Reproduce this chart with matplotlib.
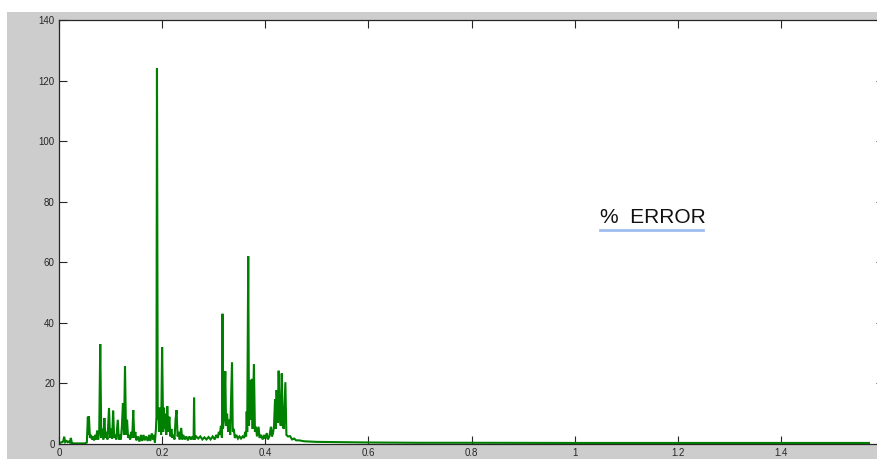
import matplotlib
matplotlib.use("Agg")
import matplotlib.pyplot as plt
from matplotlib.patches import Rectangle
from matplotlib.lines import Line2D

# ---- data (x, % error) ----
x_vals = [
    0.000, 0.004, 0.008, 0.010, 0.012, 0.015, 0.017, 0.019, 0.021, 0.023, 0.025, 0.030, 0.040, 0.050, 0.054,
    0.056, 0.057, 0.058, 0.060, 0.062, 0.064, 0.066, 0.068, 0.070, 0.072, 0.074, 0.076, 0.078, 0.080,
    0.082, 0.084, 0.086, 0.088, 0.090, 0.092, 0.094, 0.097, 0.099, 0.101, 0.103, 0.105, 0.107, 0.109,
    0.111, 0.114, 0.116, 0.118, 0.120, 0.122, 0.124, 0.126, 0.128, 0.130, 0.132, 0.134, 0.136, 0.138,
    0.140, 0.142, 0.144, 0.146, 0.148, 0.150, 0.153, 0.156, 0.159, 0.161, 0.164, 0.166, 0.169, 0.172,
    0.175, 0.177, 0.180, 0.182, 0.184, 0.186, 0.188, 0.189,
    0.190, 0.1915, 0.193, 0.194, 0.195, 0.196, 0.197, 0.198, 0.200, 0.202, 0.203, 0.205, 0.206, 0.208,
    0.210, 0.212, 0.214, 0.216, 0.218, 0.220, 0.222, 0.224, 0.226, 0.228, 0.230, 0.232, 0.234, 0.237,
    0.239, 0.241, 0.244, 0.247, 0.250, 0.253, 0.256, 0.259, 0.261, 0.262, 0.263, 0.266, 0.270, 0.274,
    0.278, 0.282, 0.286, 0.290, 0.294, 0.298, 0.302, 0.305, 0.308, 0.310, 0.312, 0.314, 0.316, 0.317,
    0.318, 0.320, 0.3225, 0.324, 0.326, 0.328, 0.330, 0.332, 0.3355, 0.337, 0.339, 0.341, 0.344, 0.347,
    0.350, 0.353, 0.356, 0.359, 0.361, 0.363, 0.364, 0.365, 0.367, 0.3685, 0.370, 0.372, 0.374, 0.3755,
    0.378, 0.380, 0.382, 0.384, 0.387, 0.389, 0.392, 0.395, 0.398, 0.400, 0.403, 0.405, 0.408, 0.411,
    0.413, 0.415, 0.417, 0.419, 0.4205, 0.422, 0.424, 0.426, 0.428, 0.430, 0.432, 0.434, 0.436, 0.439,
    0.441, 0.444, 0.448, 0.452, 0.456, 0.460, 0.466, 0.475, 0.490, 0.500, 0.550, 0.600, 0.700, 0.800,
    1.000, 1.200, 1.400, 1.5708,
]
err_vals = [
    0.3, 0.5, 0.8, 2.4, 0.6, 1.0, 0.6, 0.8, 0.5, 2.0, 0.3, 0.2, 0.2, 0.2, 0.5,
    9.0, 3.0, 9.2, 2.0, 3.0, 1.5, 2.5, 1.2, 3.0, 1.5, 4.4, 1.5, 4.0, 33.0,
    2.0, 5.0, 1.5, 8.6, 2.0, 4.0, 1.5, 11.9, 2.0, 5.0, 1.8, 11.0, 2.0, 3.0,
    1.5, 8.0, 1.5, 3.0, 1.5, 6.0, 13.5, 3.0, 25.7, 3.0, 8.0, 2.0, 3.0, 1.5,
    4.0, 2.0, 11.2, 2.0, 4.0, 1.2, 2.5, 0.8, 3.0, 1.0, 3.0, 1.2, 2.5, 1.0,
    3.0, 1.0, 3.5, 1.5, 3.0, 0.5, 5.0, 9.0,
    124.0, 8.0, 12.0, 4.0, 11.0, 5.0, 12.0, 3.0, 32.0, 4.0, 12.0, 5.0, 10.0, 3.0,
    12.5, 4.0, 9.0, 2.5, 5.0, 2.0, 3.0, 1.5, 8.0, 11.2, 2.5, 4.0, 1.5, 5.3,
    1.5, 3.0, 1.5, 2.5, 1.2, 2.5, 1.5, 2.5, 1.5, 15.3, 1.5, 2.5, 1.8, 2.5,
    1.5, 2.2, 1.5, 2.3, 1.5, 2.5, 1.5, 3.0, 2.0, 4.0, 3.0, 6.0, 2.0, 43.0,
    5.0, 8.0, 24.0, 6.0, 10.0, 4.0, 8.0, 3.0, 27.0, 4.0, 5.0, 2.0, 3.0, 1.8,
    2.5, 1.8, 2.5, 2.0, 4.0, 2.5, 10.7, 4.0, 62.0, 6.0, 21.0, 8.0, 21.5, 5.0,
    26.4, 4.0, 5.7, 2.5, 5.7, 2.0, 3.0, 1.5, 3.0, 1.8, 3.6, 1.5, 2.5, 5.7,
    2.5, 3.5, 6.0, 14.8, 5.0, 17.8, 7.0, 24.2, 10.0, 6.0, 23.3, 6.0, 5.0, 20.4,
    3.0, 2.5, 2.6, 1.5, 1.8, 1.2, 1.2, 0.9, 0.8, 0.7, 0.6, 0.5, 0.4, 0.4,
    0.35, 0.35, 0.35, 0.35,
]
x_ticks = [0, 0.2, 0.4, 0.6, 0.8, 1.0, 1.2, 1.4, 1.6]
x_ticklabels = ["0", "0.2", "0.4", "0.6", "0.8", "1", "1.2", "1.4", "1.6"]
y_ticks = [0, 20, 40, 60, 80, 100, 120, 140]
annotation = "%  ERROR"

W, H = 878, 459
fig = plt.figure(figsize=(W / 100, H / 100), dpi=100)
fig.patch.set_facecolor("white")
# MATLAB-style gray figure background (screenshot has a thin white margin top/left)
fig.add_artist(Rectangle((7 / W, 0), 1 - 7 / W, 1 - 12 / H, transform=fig.transFigure,
                         facecolor="#cdcdcd", edgecolor="none", zorder=-10))

left_px, right_px, top_px, bottom_px = 59, 884, 20, 444
ax = fig.add_axes([left_px / W, 1 - bottom_px / H, (right_px - left_px) / W, (bottom_px - top_px) / H])
ax.set_facecolor("white")
ax.plot(x_vals, err_vals, color="#008000", lw=1.5, solid_joinstyle="miter")
ax.set_xlim(0, 1.6)
ax.set_ylim(0, 140)
ax.set_xticks(x_ticks)
ax.set_xticklabels(x_ticklabels)
ax.set_yticks(y_ticks)
ax.tick_params(direction="in", length=6, width=0.8, top=True, right=True,
               labelsize=7, colors="#262626", pad=3)
for lab in ax.get_xticklabels() + ax.get_yticklabels():
    lab.set_fontfamily("Liberation Sans")
for s in ax.spines.values():
    s.set_color("#262626")
    s.set_linewidth(0.9)

fig.text(600 / W, 1 - 218 / H, annotation, fontsize=15, family="Liberation Sans",
         color="#111111", va="center", ha="left")
fig.add_artist(Line2D([600 / W, 703 / W], [1 - 229.5 / H, 1 - 229.5 / H],
                      transform=fig.transFigure, color="#9fbdf0", lw=2.0))

fig.savefig("out.png", dpi=100)
